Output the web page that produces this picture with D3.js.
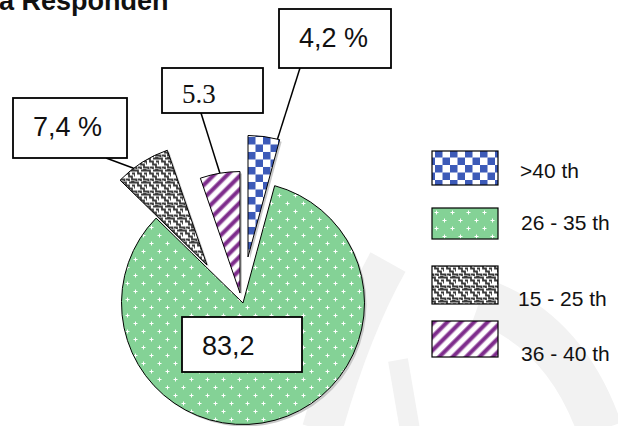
<!DOCTYPE html>
<html lang="id">
<head>
<meta charset="UTF-8">
<title>Responden</title>
<script src="https://cdn.jsdelivr.net/npm/d3@7"></script>
<style>
  body { margin: 0; background: #fff; }
  svg { display: block; }
  .title { font-family: "Liberation Sans", Arial, sans-serif; font-weight: bold; font-size: 27px; fill: #111; }
  .lbl { font-family: "Liberation Sans", Arial, sans-serif; font-size: 27px; fill: #111; }
  .lbl.serif { font-family: "Liberation Serif", "Times New Roman", serif; font-size: 27px; }
  .legend text { font-family: "Liberation Sans", Arial, sans-serif; font-size: 21px; fill: #111; }
</style>
</head>
<body>
<div id="chart"></div>
<script>
// data
const categories = [">40 th", "26 - 35 th", "15 - 25 th", "36 - 40 th"]
const values = [4.2, 83.2, 7.4, 5.3]
const labelTexts = ["4,2 %", "83,2", "7,4 %", "5.3"]
const titleText = "a Responden"

// layout
const W = 618, H = 426
const cx = 243, cy = 303, R = 121.5
const explodeDist = [46.3, 0, 52.3, 10.4]
const explodeDir = [6.2, 0, -43.5, -16.7]          // degrees, clockwise from north
const fills = ["url(#pBlue)", "url(#pGreen)", "url(#pWeave)", "url(#pPurple)"]
// label boxes: x, y, w, h, baseline offset, leader start on bottom edge, leader end along arc
const boxes = [
    {x: 279, y: 9, w: 112, h: 59, base: 38, lead: 21, t: 0.93},
    {x: 182, y: 317, w: 120, h: 55, base: 38, lead: null},
    {x: 13, y: 98, w: 114, h: 60, base: 38, lead: 93, t: 0.32},
    {x: 162, y: 68, w: 101, h: 45, base: 35, lead: 39, t: 0.5}
]
const legendX = 432, legendW = 66
const legendY = [151, 208, 266, 321]
const legendH = [34, 31, 38, 36]
const legendTextX = [520, 521, 518, 521]
const legendTextY = [170, 222, 298, 353]

const svg = d3.select("#chart").append("svg")
    .attr("width", W).attr("height", H)

// patterns
const defs = svg.append("defs")
const blue = defs.append("pattern").attr("id", "pBlue")
    .attr("patternUnits", "userSpaceOnUse").attr("width", 15).attr("height", 15)
blue.append("rect").attr("width", 15).attr("height", 15).attr("fill", "#fff")
blue.append("rect").attr("width", 7.5).attr("height", 7.5).attr("fill", "#3c5ab8")
blue.append("rect").attr("x", 7.5).attr("y", 7.5).attr("width", 7.5).attr("height", 7.5).attr("fill", "#3c5ab8")

const green = defs.append("pattern").attr("id", "pGreen")
    .attr("patternUnits", "userSpaceOnUse").attr("width", 16).attr("height", 16)
green.append("rect").attr("width", 16).attr("height", 16).attr("fill", "#84d296")
green.append("path")
    .attr("d", "M2.5,4.5h4M4.5,2.5v4M10.5,12.5h4M12.5,10.5v4")
    .attr("stroke", "#fff").attr("stroke-width", 1)

const weave = defs.append("pattern").attr("id", "pWeave")
    .attr("patternUnits", "userSpaceOnUse").attr("width", 12).attr("height", 12)
weave.append("rect").attr("width", 12).attr("height", 12).attr("fill", "#fff")
weave.append("path")
    .attr("d", "M0,1.5H3V4.5H6V7.5H9V10.5H12M6,1.5H9V-1.5M0,7.5H-3M6,13.5V10.5H3M12,7.5V4.5H9" +
               "M0,10.5H1.5V12M10.5,0V1.5H12")
    .attr("fill", "none").attr("stroke", "#3a3a3a").attr("stroke-width", 1.8)

const purple = defs.append("pattern").attr("id", "pPurple")
    .attr("patternUnits", "userSpaceOnUse").attr("width", 9.5).attr("height", 9.5)
    .attr("patternTransform", "rotate(45)")
purple.append("rect").attr("width", 9.5).attr("height", 9.5).attr("fill", "#fff")
purple.append("rect").attr("width", 5).attr("height", 9.5).attr("fill", "#c7a0cd")
purple.append("rect").attr("x", 0.8).attr("width", 3.4).attr("height", 9.5).attr("fill", "#7e2d8c")

// faint watermark in the background
const wm = svg.append("g").attr("fill", "none").attr("stroke", "#f2f2f2")
wm.append("path").attr("d", "M388,262 Q350,330 322,430").attr("stroke-width", 40)
wm.append("path").attr("d", "M398,360 L410,430").attr("stroke-width", 20)
wm.append("path").attr("d", "M480,300 Q565,330 600,430").attr("stroke-width", 45)

// title (cut at the top)
svg.append("text").attr("class", "title").attr("x", -1).attr("y", 10).text(titleText)

// pie
const pie = d3.pie().sort(null).startAngle(0).endAngle(2 * Math.PI)
const arcs = pie(values)
const arc = d3.arc().innerRadius(0).outerRadius(R)
const rad = d => d * Math.PI / 180
const apex = i => [cx + explodeDist[i] * Math.sin(rad(explodeDir[i])),
                   cy - explodeDist[i] * Math.cos(rad(explodeDir[i]))]

const slices = svg.append("g")
slices.selectAll("path.shadow").data(arcs).join("path")
    .attr("class", "shadow")
    .attr("transform", (d, i) => `translate(${apex(i)[0] + 2},${apex(i)[1] + 2})`)
    .attr("d", arc).attr("fill", "#c8c8c8")
slices.selectAll("path.slice").data(arcs).join("path")
    .attr("class", "slice")
    .attr("transform", (d, i) => `translate(${apex(i)})`)
    .attr("d", arc)
    .attr("fill", (d, i) => fills[i])
    .attr("stroke", "#000").attr("stroke-width", 1)

// leader lines
const labels = svg.append("g")
arcs.forEach((d, i) => {
    const b = boxes[i]
    if (b.lead === null) return
    const a = d.startAngle + b.t * (d.endAngle - d.startAngle)
    const [ax, ay] = apex(i)
    labels.append("line")
        .attr("x1", b.x + b.lead).attr("y1", b.y + b.h)
        .attr("x2", ax + R * Math.sin(a)).attr("y2", ay - R * Math.cos(a))
        .attr("stroke", "#000").attr("stroke-width", 1.5)
})
// label boxes
labels.selectAll("rect").data(arcs).join("rect")
    .attr("x", (d, i) => boxes[i].x).attr("y", (d, i) => boxes[i].y)
    .attr("width", (d, i) => boxes[i].w).attr("height", (d, i) => boxes[i].h)
    .attr("fill", "#fff").attr("stroke", "#000").attr("stroke-width", 1.8)
labels.selectAll("text").data(arcs).join("text")
    .attr("class", (d, i) => labelTexts[i].includes(".") ? "lbl serif" : "lbl")
    .attr("x", (d, i) => boxes[i].x + 20)
    .attr("y", (d, i) => boxes[i].y + boxes[i].base)
    .text((d, i) => labelTexts[i])

// legend
const legend = svg.append("g").attr("class", "legend")
legend.selectAll("rect").data(categories).join("rect")
    .attr("x", legendX).attr("y", (d, i) => legendY[i])
    .attr("width", legendW).attr("height", (d, i) => legendH[i])
    .attr("fill", (d, i) => fills[i])
    .attr("stroke", "#000").attr("stroke-width", 1.2)
legend.selectAll("text").data(categories).join("text")
    .attr("x", (d, i) => legendTextX[i]).attr("y", (d, i) => legendTextY[i])
    .attr("dominant-baseline", "central")
    .text(d => d)
</script>
</body>
</html>
